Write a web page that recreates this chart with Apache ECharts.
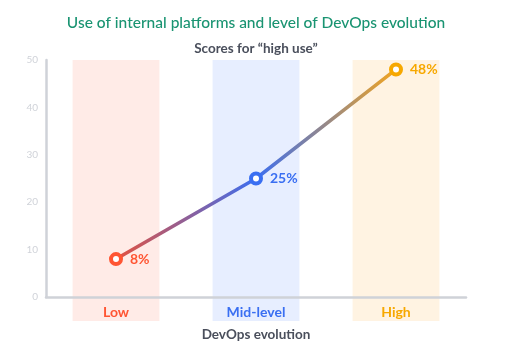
<!DOCTYPE html>
<html>
<head>
<meta charset="utf-8">
<script src="https://cdn.jsdelivr.net/npm/echarts@6/dist/echarts.min.js"></script>
<style>
  html, body { margin: 0; padding: 0; background: #fff; }
  #chart { width: 512px; height: 353px; }
</style>
</head>
<body>
<div id="chart"></div>
<script>
// data
const categories = ["Low", "Mid-level", "High"];
const scores = [8, 25, 48];
const yTicks = [0, 10, 20, 30, 40, 50];
const bandTop = [50, 50, 50];

const labelColors = ["#ff5533", "#3a6ff2", "#f7a800"];
const bandColors = ["#ffebe7", "#e7eeff", "#fff3e2"];

const chart = echarts.init(document.getElementById("chart"));

chart.setOption({
  animation: false,
  textStyle: { fontFamily: "Lato" },
  title: [
    {
      text: "Use of internal platforms and level of DevOps evolution",
      left: "center",
      top: 10,
      textStyle: { color: "#1a9472", fontSize: 15.5, fontWeight: 500, fontFamily: "Lato" }
    },
    {
      text: "Scores for \u201chigh use\u201d",
      left: "center",
      top: 37,
      textStyle: { color: "#4a4f5c", fontSize: 13.5, fontWeight: "bold", fontFamily: "Lato" }
    }
  ],
  grid: { left: 46, right: 46, top: 60, bottom: 56 },
  xAxis: {
    type: "category",
    data: categories,
    boundaryGap: true,
    name: "DevOps evolution",
    nameLocation: "middle",
    nameGap: 31,
    nameTextStyle: { color: "#4a4f5c", fontSize: 13.5, fontWeight: "bold" },
    axisLine: { lineStyle: { color: "#cfd2d8", width: 2.5 } },
    axisTick: { show: false },
    axisLabel: {
      margin: 8,
      fontSize: 14,
      fontWeight: "bold",
      color: (v, i) => labelColors[i]
    },
    z: 5
  },
  yAxis: {
    type: "value",
    min: 0,
    max: 50,
    interval: 10,
    splitLine: { show: false },
    axisLine: { show: true, lineStyle: { color: "#cfd2d8", width: 2.5 } },
    axisTick: { show: false },
    axisLabel: {
      color: "#d0d3d9",
      fontSize: 10,
      margin: 8,
      formatter: v => (yTicks.indexOf(v) >= 0 ? String(v) : "")
    }
  },
  series: [
    {
      type: "custom",
      silent: true,
      clip: false,
      z: 0,
      data: bandTop.map((v, i) => [i, v]),
      renderItem: (params, api) => {
        const i = api.value(0);
        const top = api.coord([i, api.value(1)]);
        const bottom = api.coord([i, 0]);
        const w = api.size([1, 0])[0] * 0.62;
        return {
          type: "rect",
          shape: { x: top[0] - w / 2, y: top[1], width: w, height: bottom[1] - top[1] + 24 },
          style: { fill: bandColors[i] }
        };
      }
    },
    {
      type: "line",
      z: 10,
      symbol: "circle",
      symbolSize: 10,
      data: scores.map((v, i) => ({
        value: v,
        itemStyle: { color: "#fff", borderWidth: 4, borderColor: labelColors[i] },
        label: { color: labelColors[i] }
      })),
      lineStyle: {
        width: 3.5,
        color: {
          type: "linear", x: 0, y: 0, x2: 1, y2: 0,
          colorStops: [
            { offset: 0, color: "#e6513c" },
            { offset: 0.5, color: "#3c6ef0" },
            { offset: 1, color: "#f5a51c" }
          ]
        }
      },
      label: {
        show: true,
        position: "right",
        distance: 7,
        fontSize: 14,
        fontWeight: "bold",
        formatter: p => p.value + "%"
      }
    }
  ]
});
</script>
</body>
</html>
